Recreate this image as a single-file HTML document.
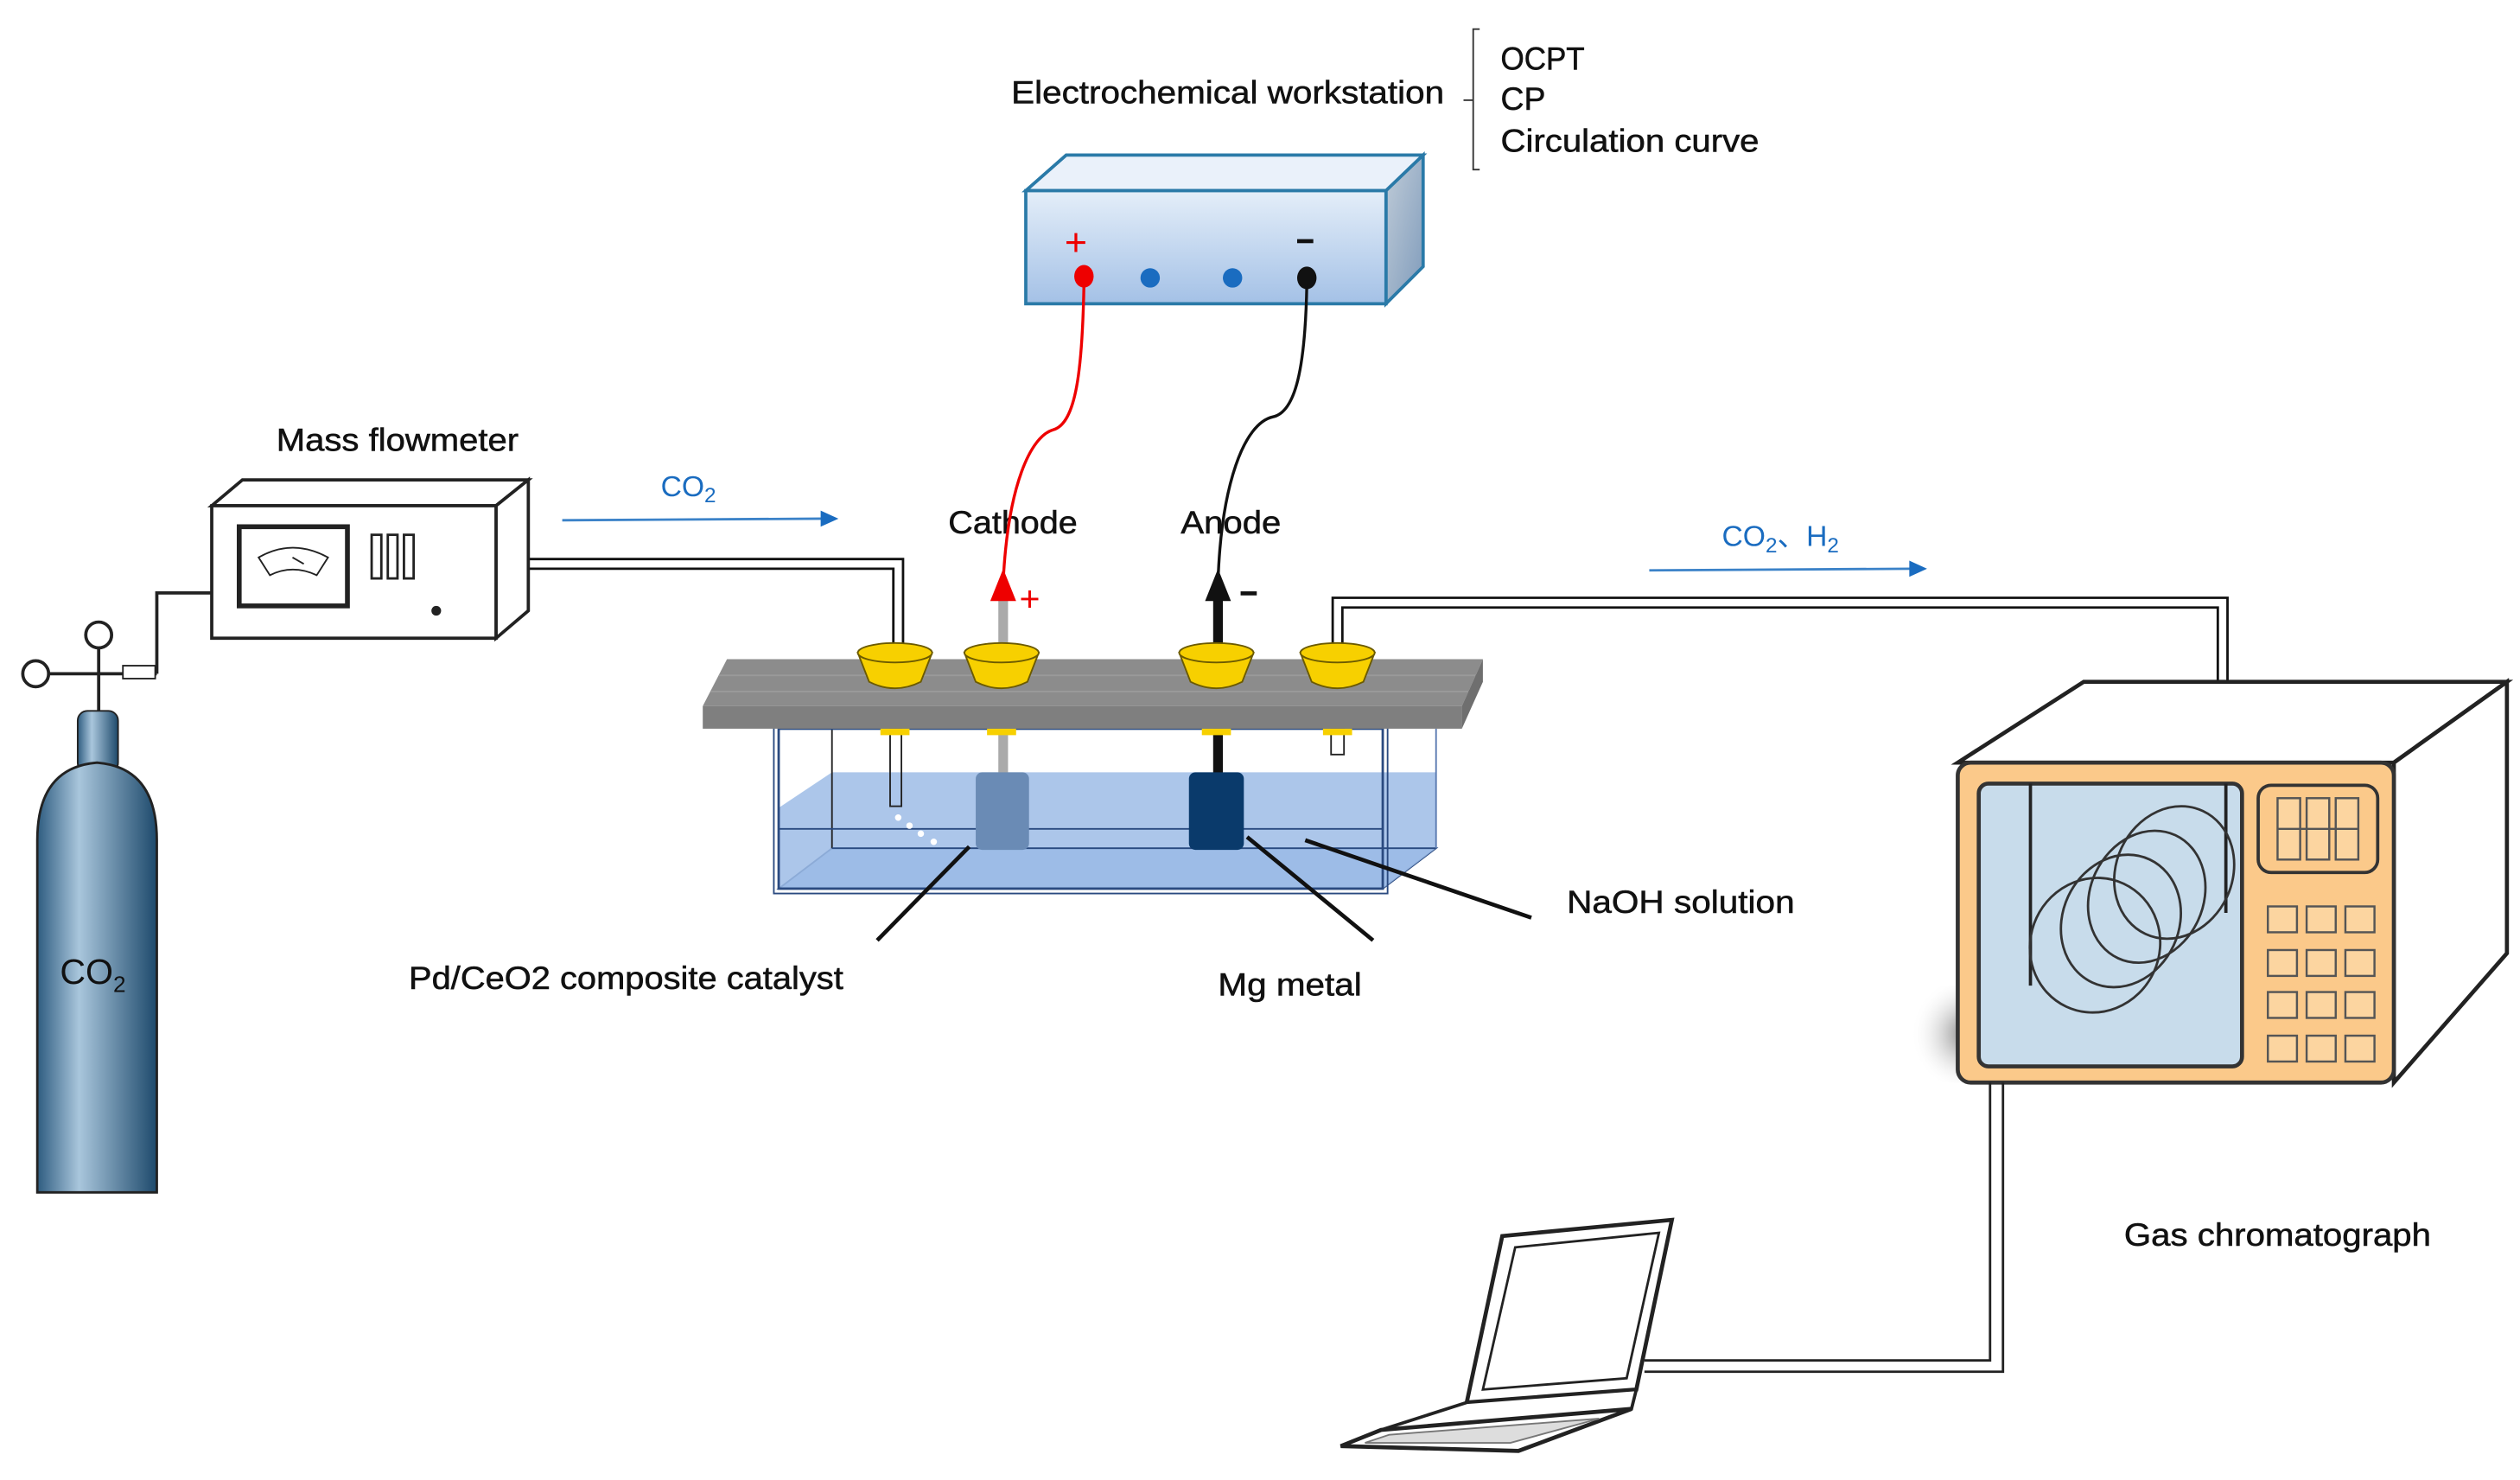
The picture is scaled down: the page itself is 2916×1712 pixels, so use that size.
<!DOCTYPE html>
<html><head><meta charset="utf-8"><style>html,body{margin:0;padding:0;background:#fff}svg{display:block}</style></head><body>
<svg width="2916" height="1712" viewBox="0 0 1560 916" xmlns="http://www.w3.org/2000/svg" font-family="Liberation Sans, sans-serif">
<defs>
<linearGradient id="ws" x1="0" y1="0" x2="0" y2="1"><stop offset="0" stop-color="#e4eef9"/><stop offset="1" stop-color="#a4c1e6"/></linearGradient>
<linearGradient id="wsd" x1="0" y1="0" x2="1" y2="1"><stop offset="0" stop-color="#c0ccd8"/><stop offset="1" stop-color="#7f9bbb"/></linearGradient>
<linearGradient id="cyl" x1="0" y1="0" x2="1" y2="0"><stop offset="0" stop-color="#2e5c80"/><stop offset="0.35" stop-color="#a9c6dc"/><stop offset="1" stop-color="#1e4a6c"/></linearGradient>
<radialGradient id="sh" cx="0.9" cy="0.5" r="0.6"><stop offset="0" stop-color="#777"/><stop offset="1" stop-color="#fff" stop-opacity="0"/></radialGradient>
</defs>
<g font-size="20" fill="#111" stroke="#111" stroke-width="0.3">
<text x="626" y="64" textLength="268" lengthAdjust="spacingAndGlyphs">Electrochemical workstation</text>
<text x="929" y="43" textLength="52" lengthAdjust="spacingAndGlyphs">OCPT</text><text x="929" y="68">CP</text><text x="929" y="94" textLength="160" lengthAdjust="spacingAndGlyphs">Circulation curve</text>
<text x="171" y="279" textLength="150" lengthAdjust="spacingAndGlyphs">Mass flowmeter</text>
<text x="587" y="330" textLength="80" lengthAdjust="spacingAndGlyphs">Cathode</text><text x="731" y="330" textLength="62" lengthAdjust="spacingAndGlyphs">Anode</text>
<text x="253" y="612" textLength="269" lengthAdjust="spacingAndGlyphs">Pd/CeO2 composite catalyst</text>
<text x="754" y="616" textLength="89" lengthAdjust="spacingAndGlyphs">Mg metal</text>
<text x="970" y="565" textLength="141" lengthAdjust="spacingAndGlyphs">NaOH solution</text>
<text x="1315" y="771" textLength="190" lengthAdjust="spacingAndGlyphs">Gas chromatograph</text>
</g>
<path d="M916,18 H912 V105 H916" fill="none" stroke="#333" stroke-width="1"/>
<path d="M906,62 H912" stroke="#333"/>
<!-- workstation -->
<polygon points="635,118 660,96 881,96 858,118" fill="#eaf1fa" stroke="#2a7aa8" stroke-width="2"/>
<polygon points="858,118 881,96 881,165 858,188" fill="url(#wsd)" stroke="#2a7aa8" stroke-width="2"/>
<rect x="635" y="118" width="223" height="70" fill="url(#ws)" stroke="#2a7aa8" stroke-width="2"/>
<text x="659" y="158" fill="#e00" font-size="24">+</text>
<rect x="803" y="148" width="10" height="2.5" fill="#111"/>
<ellipse cx="671" cy="171" rx="6" ry="7" fill="#e00"/>
<ellipse cx="712" cy="172" rx="6" ry="6" fill="#1a6cc0"/>
<ellipse cx="763" cy="172" rx="6" ry="6" fill="#1a6cc0"/>
<ellipse cx="809" cy="172" rx="6" ry="7" fill="#111"/>
<path d="M671,176 C670,230 666,262 652,266 C638,270 624,300 621,360" fill="none" stroke="#e00" stroke-width="1.8"/>
<path d="M809,176 C808,228 802,255 788,258 C770,262 756,300 754,360" fill="none" stroke="#111" stroke-width="1.8"/>
<!-- CO2 arrows -->
<text x="409" y="307" fill="#1a6cc0" font-size="18">CO<tspan font-size="13" dy="4">2</tspan></text>
<line x1="348" y1="322" x2="510" y2="321" stroke="#3b82c8" stroke-width="1.5"/><polygon points="508,316 519,321 508,326" fill="#1a6cc0"/>
<text x="1066" y="338" fill="#1a6cc0" font-size="18">CO<tspan font-size="13" dy="4">2</tspan><tspan dy="-4">、H</tspan><tspan font-size="13" dy="4">2</tspan></text>
<line x1="1021" y1="353" x2="1184" y2="352" stroke="#3b82c8" stroke-width="1.5"/><polygon points="1182,347 1193,352 1182,357" fill="#1a6cc0"/>
<!-- tank back -->
<polygon points="482,550 515,525 889,525 856,550" fill="#9dbce6" stroke="#2a4a80"/>
<polygon points="482,500 515,478 889,478 889,525 856,550 482,550" fill="#9dbce6" opacity="0.85"/>
<line x1="515" y1="451" x2="515" y2="525" stroke="#222"/>
<line x1="482" y1="513" x2="856" y2="513" stroke="#2a4a80"/>
<line x1="515" y1="525" x2="889" y2="525" stroke="#2a4a80"/>
<line x1="889" y1="451" x2="889" y2="525" stroke="#5a7ab0"/>
<rect x="482" y="451" width="374" height="99" fill="none" stroke="#2a4a80" stroke-width="1.5"/>
<rect x="479" y="448" width="380" height="105" fill="none" stroke="#2a4a80" stroke-width="1"/>
<!-- electrodes -->
<rect x="618" y="451" width="6" height="30" fill="#aaa"/>
<rect x="604" y="478" width="33" height="48" rx="4" fill="#6a8bb5"/>
<rect x="751" y="451" width="6" height="30" fill="#111"/>
<rect x="736" y="478" width="34" height="48" rx="4" fill="#0a3a6b"/>
<rect x="551" y="451" width="7" height="48" fill="none" stroke="#222"/>
<rect x="824" y="451" width="8" height="16" fill="#fff" stroke="#222"/>
<g fill="#fff"><circle cx="556" cy="506" r="2"/><circle cx="563" cy="511" r="2"/><circle cx="570" cy="516" r="2"/><circle cx="578" cy="521" r="2"/></g>
<!-- board -->
<polygon points="450,408 918,408 905,437 435,437" fill="#8c8c8c"/>
<line x1="445" y1="418" x2="914" y2="418" stroke="#9a9a9a"/><line x1="440" y1="428" x2="910" y2="428" stroke="#9a9a9a"/>
<rect x="435" y="437" width="470" height="14" fill="#7f7f7f"/>
<polygon points="905,437 918,408 918,422 905,451" fill="#6f6f6f"/>
<!-- pipes -->
<path d="M315,346 H559 V405 M315,352 H553 V405" fill="none" stroke="#111" stroke-width="1.5"/>
<circle cx="315" cy="349" r="4" fill="#fff" stroke="#111"/>
<path d="M825,405 V370 H1379 V425 M831,405 V376 H1373 V425" fill="none" stroke="#111" stroke-width="1.5"/>
<!-- rods & arrows -->
<rect x="618" y="370" width="6" height="35" fill="#aaa"/>
<polygon points="621,352 613,372 629,372" fill="#e00"/>
<text x="631" y="378" fill="#e00" font-size="22">+</text>
<rect x="751" y="370" width="6" height="35" fill="#111"/>
<polygon points="754,352 746,372 762,372" fill="#111"/>
<rect x="768" y="366" width="10" height="2.5" fill="#111"/>
<!-- cups -->
<g fill="#f7d000" stroke="#6b5a00" stroke-width="1">
<path d="M531,404 L538,422 Q554,430 570,422 L577,404 Z"/><ellipse cx="554" cy="404" rx="23" ry="6"/>
<path d="M597,404 L604,422 Q620,430 636,422 L643,404 Z"/><ellipse cx="620" cy="404" rx="23" ry="6"/>
<path d="M730,404 L737,422 Q753,430 769,422 L776,404 Z"/><ellipse cx="753" cy="404" rx="23" ry="6"/>
<path d="M805,404 L812,422 Q828,430 844,422 L851,404 Z"/><ellipse cx="828" cy="404" rx="23" ry="6"/>
</g>
<g fill="#f7d000"><rect x="545" y="451" width="18" height="4"/><rect x="611" y="451" width="18" height="4"/><rect x="744" y="451" width="18" height="4"/><rect x="819" y="451" width="18" height="4"/></g>
<!-- leaders -->
<g stroke="#111" stroke-width="2.5">
<line x1="543" y1="582" x2="600" y2="524"/>
<line x1="850" y1="582" x2="772" y2="518"/>
<line x1="948" y1="568" x2="808" y2="520"/>
</g>
<!-- mass flowmeter -->
<polygon points="131,313 150,297 327,297 307,313" fill="#fff" stroke="#222" stroke-width="2"/>
<polygon points="307,313 327,297 327,378 307,395" fill="#fff" stroke="#222" stroke-width="2"/>
<rect x="131" y="313" width="176" height="82" fill="#fff" stroke="#222" stroke-width="2"/>
<rect x="148" y="326" width="67" height="49" fill="#fff" stroke="#222" stroke-width="3"/>
<path d="M160,345 Q181,333 203,345 L196,356 Q181,349 167,356 Z" fill="#fff" stroke="#222"/>
<line x1="181" y1="345" x2="188" y2="349" stroke="#222"/>
<g fill="#fff" stroke="#222" stroke-width="1.5"><rect x="230" y="331" width="6" height="27"/><rect x="240" y="331" width="6" height="27"/><rect x="250" y="331" width="6" height="27"/></g>
<circle cx="270" cy="378" r="3" fill="#222"/>
<!-- cylinder -->
<path d="M97,417 V367 H131" fill="none" stroke="#222" stroke-width="2"/>
<line x1="14" y1="417" x2="97" y2="417" stroke="#222" stroke-width="2"/>
<line x1="61" y1="400" x2="61" y2="445" stroke="#222" stroke-width="2"/>
<circle cx="61" cy="393" r="8" fill="#fff" stroke="#222" stroke-width="2"/>
<circle cx="22" cy="417" r="8" fill="#fff" stroke="#222" stroke-width="2"/>
<rect x="76" y="412" width="20" height="8" fill="#fff" stroke="#222"/>
<rect x="48" y="440" width="25" height="38" rx="6" fill="url(#cyl)" stroke="#222"/>
<path d="M23,738 V520 Q23,475 60,472 Q97,475 97,520 V738 Z" fill="url(#cyl)" stroke="#222" stroke-width="1.5"/>
<text x="37" y="609" font-size="22" fill="#111">CO<tspan font-size="14" dy="5">2</tspan></text>
<!-- GC -->
<rect x="1165" y="610" width="60" height="60" fill="url(#sh)"/>
<polygon points="1212,472 1290,422 1552,422 1482,472" fill="#fff" stroke="#222" stroke-width="2.5"/>
<polygon points="1482,472 1552,422 1552,590 1482,670" fill="#fff" stroke="#222" stroke-width="2.5"/>
<rect x="1212" y="472" width="270" height="198" rx="8" fill="#fbc98a" stroke="#333" stroke-width="2.5"/>
<rect x="1225" y="485" width="163" height="175" rx="6" fill="#c8dceb" stroke="#333" stroke-width="2.5"/>
<path d="M1257,485 V610 M1378,485 V565" stroke="#222" stroke-width="2" fill="none"/>
<g fill="none" stroke="#333" stroke-width="1.5">
<ellipse cx="1297" cy="585" rx="40" ry="42" transform="rotate(25 1297 585)"/>
<ellipse cx="1313" cy="570" rx="36" ry="42" transform="rotate(25 1313 570)"/>
<ellipse cx="1329" cy="555" rx="35" ry="42" transform="rotate(25 1329 555)"/>
<ellipse cx="1346" cy="540" rx="36" ry="42" transform="rotate(25 1346 540)"/>
</g>
<rect x="1398" y="486" width="74" height="54" rx="8" fill="#fbc98a" stroke="#333" stroke-width="2"/>
<g fill="#fcd5a0" stroke="#555" stroke-width="1.3">
<rect x="1410" y="494" width="14" height="38"/><rect x="1428" y="494" width="14" height="38"/><rect x="1446" y="494" width="14" height="38"/>
<line x1="1410" y1="513" x2="1460" y2="513"/>
<rect x="1404" y="561" width="18" height="16"/><rect x="1428" y="561" width="18" height="16"/><rect x="1452" y="561" width="18" height="16"/>
<rect x="1404" y="588" width="18" height="16"/><rect x="1428" y="588" width="18" height="16"/><rect x="1452" y="588" width="18" height="16"/>
<rect x="1404" y="614" width="18" height="16"/><rect x="1428" y="614" width="18" height="16"/><rect x="1452" y="614" width="18" height="16"/>
<rect x="1404" y="641" width="18" height="16"/><rect x="1428" y="641" width="18" height="16"/><rect x="1452" y="641" width="18" height="16"/>
</g>
<!-- cable -->
<path d="M1232,670 V842 H1018 M1240,670 V849 H1018" fill="none" stroke="#222" stroke-width="1.5"/>
<!-- laptop -->
<polygon points="930,765 1035,755 1013,860 908,868" fill="#fff" stroke="#222" stroke-width="2.5"/>
<polygon points="938,772 1027,763 1007,853 918,860" fill="#fff" stroke="#222" stroke-width="1.5"/>
<polygon points="908,868 1013,860 1010,872 855,885" fill="#fff" stroke="#222" stroke-width="2"/>
<polygon points="855,885 1010,872 940,898 830,895" fill="#fff" stroke="#222" stroke-width="2.5"/>
<polygon points="860,888 990,878 935,893 845,893" fill="#ddd" stroke="#777" stroke-width="1"/>
</svg>
</body></html>
